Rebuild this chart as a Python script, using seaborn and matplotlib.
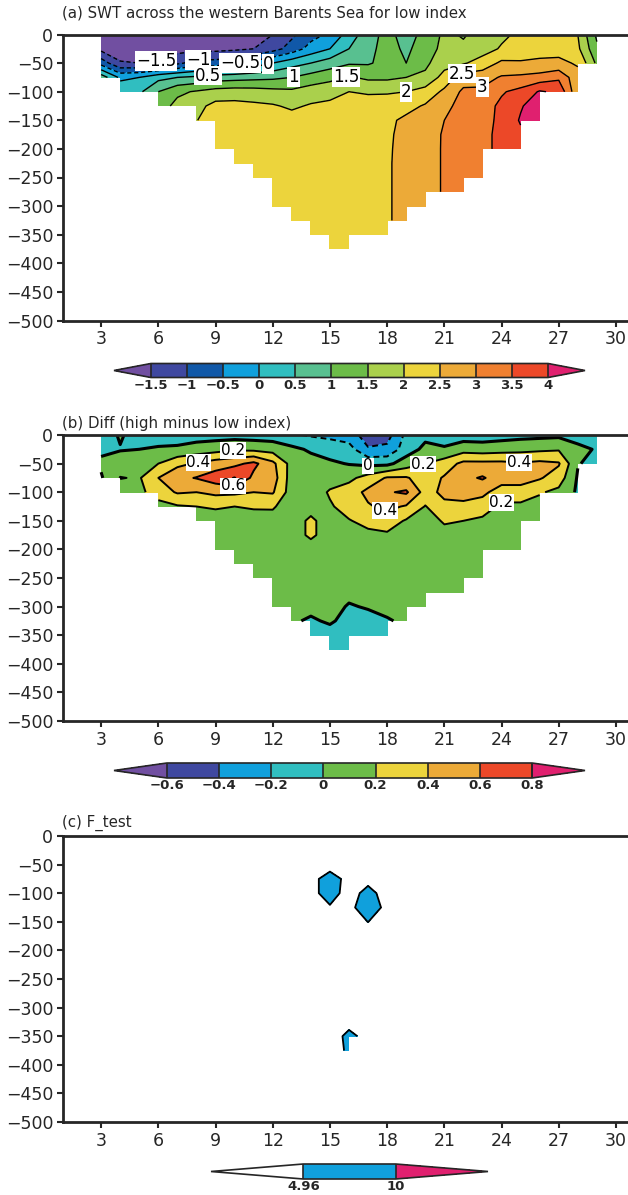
import numpy as np
import matplotlib
matplotlib.use("Agg")
import matplotlib.pyplot as plt
import seaborn as sns

# section grid: station index along the section and model depth (m)
section_x = [3, 4, 5, 6, 7, 8, 9, 10, 11, 12, 13, 14, 15, 16, 17, 18, 19, 20,
             21, 22, 23, 24, 25, 26, 27, 28, 29]
depth_levels = [0, -25, -50, -75, -100, -125, -150, -175, -200, -225, -250,
                -275, -300, -325, -350, -375]
x_ticks = [3, 6, 9, 12, 15, 18, 21, 24, 27, 30]
depth_ticks = [0, -50, -100, -150, -200, -250, -300, -350, -400, -450, -500]

# (a) SWT for low index, one profile per station (surface -> bottom)
swt_low = [
    [-1.9, -1.65, -0.7, 0.8],
    [-1.9, -1.8, -1.45, -0.1, 0.3],
    [-1.9, -1.8, -1.5, 0.0, 0.4],
    [-1.9, -1.75, -1.45, 0.35, 1.0, 1.25],
    [-1.9, -1.7, -1.1, 0.5, 1.4, 1.65],
    [-1.9, -1.65, -0.8, 0.6, 1.55, 1.85, 1.98],
    [-1.9, -1.65, -0.8, 0.75, 1.7, 2.15, 2.3, 2.33, 2.35],
    [-1.85, -1.6, -0.6, 0.8, 1.75, 2.15, 2.3, 2.33, 2.35, 2.35],
    [-1.8, -1.5, -0.3, 0.85, 1.72, 2.1, 2.3, 2.33, 2.35, 2.35, 2.35],
    [-1.5, -1.2, 0.0, 0.9, 1.65, 2.05, 2.25, 2.3, 2.33, 2.35, 2.35, 2.35, 2.35],
    [-1.1, -0.8, 0.3, 1.0, 1.6, 1.92, 2.2, 2.3, 2.33, 2.35, 2.35, 2.35, 2.35, 2.35],
    [-0.7, -0.3, 0.5, 1.2, 1.75, 2.05, 2.25, 2.3, 2.33, 2.35, 2.35, 2.35, 2.35, 2.35, 2.35],
    [-0.4, 0.0, 0.75, 1.35, 1.85, 2.1, 2.25, 2.3, 2.33, 2.35, 2.35, 2.35, 2.35, 2.35, 2.35, 2.35],
    [0.2, 0.5, 0.95, 1.55, 2.0, 2.2, 2.3, 2.33, 2.35, 2.37, 2.37, 2.37, 2.37, 2.37, 2.37, 2.37],
    [0.8, 0.85, 0.95, 1.4, 1.95, 2.2, 2.3, 2.35, 2.37, 2.38, 2.38, 2.38, 2.38, 2.38, 2.38],
    [1.15, 1.2, 1.15, 1.4, 1.95, 2.25, 2.4, 2.42, 2.44, 2.45, 2.45, 2.45, 2.45, 2.45, 2.45],
    [0.8, 0.9, 1.0, 1.5, 2.0, 2.35, 2.6, 2.65, 2.65, 2.65, 2.65, 2.65, 2.65, 2.65],
    [1.15, 1.25, 1.4, 1.6, 2.2, 2.55, 2.72, 2.78, 2.8, 2.8, 2.8, 2.8, 2.8],
    [1.6, 1.65, 1.8, 2.2, 2.6, 2.85, 3.0, 3.05, 3.05, 3.05, 3.05, 3.05],
    [1.45, 1.6, 1.95, 2.75, 3.1, 3.2, 3.25, 3.25, 3.25, 3.25, 3.25, 3.25],
    [1.7, 1.8, 2.2, 2.8, 3.1, 3.3, 3.35, 3.4, 3.4, 3.4, 3.4],
    [1.9, 2.05, 2.6, 3.05, 3.45, 3.6, 3.6, 3.6, 3.6],
    [2.1, 2.25, 2.55, 3.1, 3.65, 3.95, 4.05, 3.9, 3.7],
    [2.3, 2.4, 2.55, 3.2, 4.05, 4.3, 4.3],
    [2.2, 2.35, 2.6, 3.4, 3.9],
    [2.0, 2.1, 2.45, 2.65, 2.6],
    [0.9, 1.1, 1.4],
]

# (b) difference high minus low index
swt_diff = [
    [-0.1, -0.03, 0.03, -0.02],
    [0.02, -0.01, 0.08, 0.21, 0.08],
    [-0.08, 0.0, 0.1, 0.18, 0.15],
    [-0.08, 0.02, 0.2, 0.4, 0.3, 0.12],
    [-0.08, 0.03, 0.35, 0.55, 0.42, 0.18],
    [-0.08, 0.08, 0.42, 0.61, 0.4, 0.2, 0.12],
    [-0.08, 0.12, 0.5, 0.7, 0.45, 0.22, 0.12, 0.1, 0.1],
    [-0.08, 0.17, 0.55, 0.81, 0.44, 0.2, 0.12, 0.1, 0.1, 0.1],
    [-0.09, 0.15, 0.65, 0.55, 0.4, 0.22, 0.12, 0.1, 0.1, 0.1, 0.1],
    [-0.1, 0.12, 0.45, 0.5, 0.42, 0.22, 0.13, 0.1, 0.1, 0.1, 0.1, 0.08, 0.06],
    [-0.18, 0.05, 0.12, 0.1, 0.1, 0.1, 0.1, 0.1, 0.1, 0.1, 0.08, 0.07, 0.05, 0.02],
    [-0.22, -0.03, 0.08, 0.1, 0.1, 0.12, 0.24, 0.24, 0.1, 0.1, 0.08, 0.06, 0.04, -0.02, -0.05],
    [-0.25, -0.08, 0.03, 0.12, 0.22, 0.18, 0.1, 0.1, 0.1, 0.1, 0.08, 0.06, 0.04, 0.02, -0.06, -0.08],
    [-0.3, -0.12, -0.01, 0.15, 0.3, 0.27, 0.19, 0.14, 0.12, 0.1, 0.08, 0.03, -0.01, -0.05, -0.08, -0.08],
    [-0.5, -0.38, -0.05, 0.28, 0.45, 0.38, 0.25, 0.16, 0.12, 0.1, 0.08, 0.05, 0.01, -0.04, -0.06],
    [-0.48, -0.35, -0.05, 0.42, 0.58, 0.45, 0.3, 0.17, 0.12, 0.1, 0.08, 0.05, 0.03, -0.01, -0.04],
    [-0.15, -0.1, 0.1, 0.42, 0.63, 0.38, 0.18, 0.13, 0.12, 0.1, 0.08, 0.05, 0.03, 0.02],
    [-0.05, 0.05, 0.2, 0.3, 0.32, 0.19, 0.12, 0.1, 0.1, 0.08, 0.06, 0.04, 0.03],
    [-0.08, 0.02, 0.3, 0.42, 0.45, 0.35, 0.22, 0.14, 0.1, 0.08, 0.06, 0.04],
    [-0.1, 0.12, 0.45, 0.55, 0.48, 0.35, 0.2, 0.14, 0.1, 0.08, 0.06, 0.04],
    [-0.1, 0.1, 0.45, 0.62, 0.45, 0.3, 0.16, 0.12, 0.1, 0.08, 0.06],
    [-0.08, 0.12, 0.45, 0.5, 0.3, 0.16, 0.14, 0.1, 0.08],
    [-0.06, 0.14, 0.42, 0.5, 0.3, 0.16, 0.12, 0.1, 0.08],
    [-0.05, 0.16, 0.45, 0.42, 0.22, 0.12, 0.1],
    [-0.04, 0.18, 0.42, 0.3, 0.15],
    [-0.05, 0.03, 0.01, -0.02, -0.03],
    [-0.05, -0.01, -0.05],
]

# (c) F statistic
f_test = [
    [1.2, 1.0, 0.8, 0.6],
    [1.5, 1.3, 1.1, 0.9, 0.8],
    [1.8, 1.5, 1.3, 1.1, 1.0],
    [2.0, 1.6, 1.4, 1.3, 1.2, 1.1],
    [2.4, 1.8, 1.5, 1.4, 1.3, 1.2],
    [2.8, 2.0, 1.6, 1.5, 1.4, 1.3, 1.2],
    [3.5, 2.2, 1.8, 1.6, 1.5, 1.4, 1.3, 1.2, 1.1],
    [5.0, 2.5, 2.0, 1.8, 1.6, 1.5, 1.4, 1.3, 1.2, 1.1],
    [3.0, 2.4, 2.2, 2.0, 1.8, 1.6, 1.5, 1.4, 1.3, 1.2, 1.1],
    [2.4, 2.2, 2.2, 2.3, 2.1, 1.9, 1.7, 1.5, 1.4, 1.3, 1.2, 1.1, 1.0],
    [2.0, 2.0, 2.3, 2.6, 2.5, 2.2, 1.9, 1.7, 1.5, 1.4, 1.3, 1.2, 1.1, 1.0],
    [1.8, 2.0, 2.6, 3.5, 3.5, 2.8, 2.2, 1.9, 1.7, 1.5, 1.4, 1.4, 1.5, 1.6, 1.8],
    [1.8, 2.2, 3.0, 7.0, 7.0, 4.5, 3.0, 2.3, 1.9, 1.7, 1.6, 1.6, 1.7, 2.0, 2.0, 2.0],
    [1.6, 2.0, 2.6, 3.5, 3.0, 4.0, 3.5, 2.5, 2.0, 1.8, 1.7, 1.8, 2.2, 3.0, 6.5, 6.0],
    [1.5, 1.8, 2.4, 3.5, 6.5, 7.0, 5.0, 3.0, 2.2, 1.9, 1.8, 1.8, 2.0, 2.5, 3.0],
    [1.4, 1.6, 2.0, 2.8, 3.0, 4.0, 3.0, 2.4, 2.0, 1.8, 1.7, 1.6, 1.6, 1.7, 1.8],
    [1.3, 1.5, 1.8, 2.2, 2.4, 2.5, 2.2, 2.0, 1.8, 1.6, 1.5, 1.4, 1.4, 1.4],
    [1.2, 1.4, 1.6, 1.8, 2.0, 2.0, 1.9, 1.7, 1.6, 1.5, 1.4, 1.3, 1.3],
    [1.1, 1.3, 1.5, 1.6, 1.7, 1.7, 1.6, 1.5, 1.4, 1.3, 1.2, 1.2],
    [1.0, 1.2, 1.4, 1.5, 1.5, 1.5, 1.4, 1.3, 1.2, 1.2, 1.1, 1.1],
    [1.0, 1.1, 1.3, 1.4, 1.4, 1.3, 1.2, 1.1, 1.1, 1.0, 1.0],
    [0.9, 1.0, 1.2, 1.3, 1.3, 1.2, 1.1, 1.0, 1.0],
    [0.9, 1.0, 1.1, 1.2, 1.2, 1.1, 1.0, 1.0, 0.9],
    [0.8, 0.9, 1.0, 1.1, 1.1, 1.0, 0.9],
    [0.8, 0.9, 1.0, 1.0, 1.0],
    [0.7, 0.8, 0.9, 0.9, 0.9],
    [0.6, 0.7, 0.8],
]

swt_levels = [-1.5, -1, -0.5, 0, 0.5, 1, 1.5, 2, 2.5, 3, 3.5, 4]
diff_levels = [-0.6, -0.4, -0.2, 0, 0.2, 0.4, 0.6, 0.8]
f_levels = [4.96, 10]

swt_colors = sns.color_palette(["#714fa1", "#3f48a0", "#1058a8", "#10a0dc", "#30bec0",
                                "#58c090", "#6cbc48", "#aad04c", "#ecd43c", "#ecaa38",
                                "#f08030", "#ec4828", "#e0206f"])
diff_colors = sns.color_palette(["#714fa1", "#3f48a0", "#10a0dc", "#30bec0", "#6cbc48",
                                 "#ecd43c", "#ecaa38", "#ec4828", "#e0206f"])
f_colors = sns.color_palette(["#ffffff", "#10a0dc", "#e0206f"])

sns.set_style("ticks")
plt.rcParams["font.family"] = ["DejaVu Sans"]


def to_grid(profiles):
    grid = np.full((len(depth_levels), len(section_x)), np.nan)
    for j, col in enumerate(profiles):
        grid[:len(col), j] = col
    return np.ma.masked_invalid(grid)


def fmt(v):
    return f"{v:g}".replace("-", "\u2212")


W, H = 628, 1195
fig = plt.figure(figsize=(W / 100, H / 100), dpi=100)


def box(left, top, right, bottom):
    return [left / W, 1 - bottom / H, (right - left) / W, (bottom - top) / H]


def panel(ax_top, cb_box, title, title_y, data, levels, colors, lws, efrac,
          labels, label_size):
    ax = fig.add_axes(box(63, ax_top, 635, ax_top + 286))
    z = to_grid(data)
    cf = ax.contourf(section_x, depth_levels, z, levels=levels, colors=colors,
                     extend="both", corner_mask=False)
    cs = ax.contour(section_x, depth_levels, z, levels=levels, colors="k",
                    linewidths=lws, corner_mask=False,
                    negative_linestyles=(0, (3, 2)))
    if labels:
        txt = ax.clabel(cs, inline=True, fontsize=label_size, fmt=fmt,
                        manual=labels, inline_spacing=1)
        for t in txt:
            t.set_rotation(0)
            t.set_bbox(dict(boxstyle="square,pad=0.05", fc="white", ec="none"))
    ax.set_xlim(1, 31)
    ax.set_ylim(-500, 0)
    ax.set_xticks(x_ticks)
    ax.set_yticks(depth_ticks)
    ax.tick_params(direction="out", length=4, width=1.5, labelsize=12.5, pad=3)
    for s in ["left", "bottom", "top"]:
        ax.spines[s].set_linewidth(2)
    ax.spines["right"].set_visible(False)
    fig.text(62 / W, 1 - title_y / H, title, fontsize=10.8, va="center", ha="left")

    cax = fig.add_axes(cb_box)
    cb = fig.colorbar(cf, cax=cax, orientation="horizontal", ticks=levels,
                      extendfrac=efrac, drawedges=True)
    cb.outline.set_linewidth(1.2)
    cb.dividers.set_linewidth(1.2)
    cb.set_ticklabels([fmt(v) for v in levels])
    cax.tick_params(length=0, labelsize=9.5, pad=1)
    for t in cax.get_xticklabels():
        t.set_fontweight("bold")
    return ax


panel(34.5, box(114, 363.5, 585, 377.5),
      "(a) SWT across the western Barents Sea for low index", 13,
      swt_low, swt_levels, swt_colors, 1.0, 0.093,
      [(5.9, -48), (8.1, -42), (10.3, -50), (11.8, -58), (8.6, -72), (13.1, -75),
       (15.8, -70), (19.0, -104), (21.9, -67), (23.0, -93)], 12)

panel(435, box(114, 763, 585, 778),
      "(b) Diff (high minus low index)", 423.5,
      swt_diff, diff_levels, diff_colors,
      [1.4, 1.4, 1.4, 2.2, 1.4, 1.4, 1.4, 1.4], 0.145,
      [(8.1, -48), (9.9, -27), (9.9, -89), (17.0, -53), (19.9, -51), (17.9, -130),
       (24.9, -48), (23.9, -110)], 11)

panel(836, box(211, 1164, 488, 1179),
      "(c) F_test", 823,
      f_test, f_levels, f_colors, 1.3, 1.0, None, 11)

fig.savefig("out.png", dpi=100)
